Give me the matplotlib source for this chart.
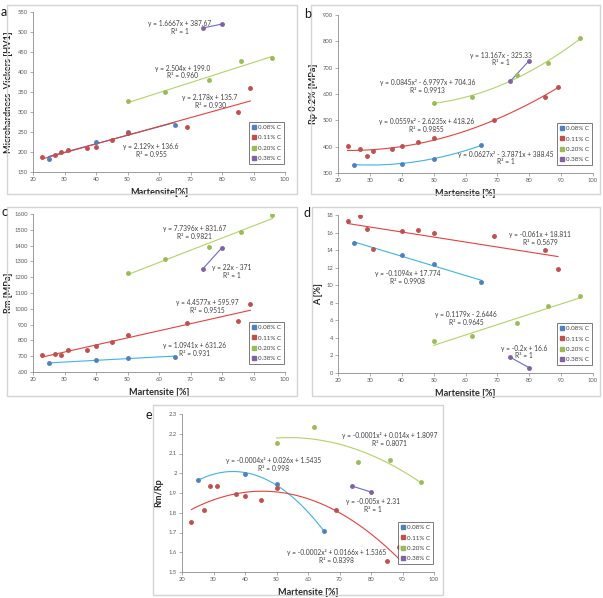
import numpy as np
import matplotlib
matplotlib.use('Agg')
import matplotlib.pyplot as plt
from matplotlib.patches import Rectangle
from matplotlib.lines import Line2D

plt.rcParams['font.family'] = ['Lato', 'DejaVu Sans']

W, H = 603, 598

# ---------------- data ----------------
labels = ['0.08% C', '0.11% C', '0.20% C', '0.38% C']

x_008 = [25, 40, 50, 65]
x_011 = [23, 27, 29, 31, 37, 40, 45, 50, 69, 85, 89]
x_011_d = [23, 27, 29, 31, 40, 45, 50, 69, 85, 89]
x_020 = [50, 62, 76, 86, 96]
x_038 = [74, 80]

# a) Microhardness Vickers
hv_008 = [183, 225, 250, 267]
hv_011 = [188, 193, 200, 205, 210, 213, 229, 247, 263, 300, 360]
hv_020 = [327, 349, 380, 428, 434]
hv_038 = [510, 520]

# b) Rp 0.2%
rp_008 = [332, 336, 355, 405]
rp_011 = [403, 390, 365, 382, 390, 403, 418, 432, 500, 590, 628]
rp_020 = [567, 587, 672, 718, 812]
rp_038 = [648, 727]

# c) Rm
rm_008 = [655, 675, 690, 697]
rm_011 = [710, 712, 708, 740, 740, 765, 790, 835, 912, 922, 1030]
rm_020 = [1225, 1315, 1390, 1485, 1592]
rm_038 = [1255, 1387]

# d) A
a_008 = [14.8, 13.4, 12.4, 10.4]
a_011 = [17.3, 17.9, 16.4, 14.1, 16.2, 16.3, 16.0, 15.6, 14.0, 11.8]
a_020 = [3.6, 4.2, 5.7, 7.6, 8.8]
a_038 = [1.8, 0.6]

# e) Rm/Rp
rr_008 = [1.965, 1.998, 1.945, 1.707]
rr_011 = [1.755, 1.815, 1.935, 1.935, 1.895, 1.885, 1.865, 1.925, 1.815, 1.555, 1.625]
rr_020 = [2.155, 2.235, 2.055, 2.065, 1.955]
rr_038 = [1.935, 1.905]

# trendline equations shown on chart
eq_a = ['y = 2.129x + 136.6\nR² = 0.955', 'y = 2.178x + 135.7\nR² = 0.930',
        'y = 2.504x + 199.0\nR² = 0.960', 'y = 1.6667x + 387.67\nR² = 1']
eq_b = ['y = 0.0627x² - 3.7871x + 388.45\nR² = 1', 'y = 0.0559x² - 2.6235x + 418.26\nR² = 0.9855',
        'y = 0.0845x² - 6.9797x + 704.36\nR² = 0.9913', 'y = 13.167x - 325.33\nR² = 1']
eq_c = ['y = 1.0941x + 631.26\nR² = 0.931', 'y = 4.4577x + 595.97\nR² = 0.9515',
        'y = 7.7396x + 831.67\nR² = 0.9821', 'y = 22x - 371\nR² = 1']
eq_d = ['y = -0.1094x + 17.774\nR² = 0.9908', 'y = -0.061x + 18.811\nR² = 0.5679',
        'y = 0.1179x - 2.6446\nR² = 0.9645', 'y = -0.2x + 16.6\nR² = 1']
eq_e = ['y = -0.0004x² + 0.026x + 1.5435\nR² = 0.998', 'y = -0.0002x² + 0.0166x + 1.5365\nR² = 0.8398',
        'y = -0.0001x² + 0.014x + 1.8097\nR² = 0.8071', 'y = -0.005x + 2.31\nR² = 1']

# ---------------- style ----------------
mcol = ['#4F81BD', '#C0504D', '#9BBB59', '#8064A2']
lcol = ['#3DB4E6', '#E5413C', '#B0D465', '#6B6BC8']
lcol_a = ['#4A6FC4', '#E5413C', '#B0D465', '#6B6BC8']
spine_c = '#8C8C8C'
tick_c = '#595959'
text_c = '#404040'


def rect(x0, y0, x1, y1):
    return [x0 / W, 1 - y1 / H, (x1 - x0) / W, (y1 - y0) / H]


fig = plt.figure(figsize=(W / 100, H / 100), dpi=100)
fig.patch.set_facecolor('white')

# panel frames
for (x0, y0, x1, y1) in [(7, 5, 297, 194), (311, 5, 600, 194), (7, 207, 297, 396),
                         (312, 207, 600, 396), (153, 405, 443, 595)]:
    fig.patches.append(Rectangle((x0 / W, 1 - y1 / H), (x1 - x0) / W, (y1 - y0) / H,
                                 transform=fig.transFigure, fill=False,
                                 edgecolor='#D4D4D4', lw=1.0))


def panel(box, xs, ys, degs, lc, ylim, ystep, yfmt, ylabel, xlabel, eqs, eqpos,
          ylab_x, letter, letter_pos):
    ax = fig.add_axes(rect(*box))
    for i in range(4):
        x = np.array(xs[i], dtype=float)
        y = np.array(ys[i], dtype=float)
        c = np.polyfit(x, y, degs[i])
        xx = np.linspace(x.min(), x.max(), 100)
        ax.plot(xx, np.polyval(c, xx), color=lc[i], lw=0.8, zorder=2)
    for i in range(4):
        ax.plot(xs[i], ys[i], 'o', ms=2.5, color=mcol[i], mec=mcol[i], zorder=3, ls='none')
    for t, (tx, ty) in zip(eqs, eqpos):
        ax.text(tx, ty, t, ha='center', va='center', fontsize=4.75, color=text_c,
                linespacing=1.15, multialignment='center', zorder=4)
    ax.set_xlim(20, 100)
    ax.set_xticks(np.arange(20, 101, 10))
    ax.set_ylim(*ylim)
    yt = np.arange(ylim[0], ylim[1] + ystep / 2, ystep)
    ax.set_yticks(yt)
    ax.set_yticklabels([yfmt(v) for v in yt])
    for s in ['top', 'right']:
        ax.spines[s].set_visible(False)
    for s in ['left', 'bottom']:
        ax.spines[s].set_color(spine_c)
        ax.spines[s].set_linewidth(0.6)
    ax.tick_params(direction='out', length=2, width=0.5, color=spine_c,
                   labelsize=4.2, labelcolor=tick_c, pad=1.5)
    ax.set_ylabel(ylabel, fontsize=6.6, fontweight='bold', color='#262626')
    ax.set_xlabel(xlabel, fontsize=6.6, fontweight='bold', color='#262626')
    ax.yaxis.set_label_coords(ylab_x, 0.5)
    ax.xaxis.set_label_coords(0.5, -0.1)
    handles = [Line2D([], [], marker='s', ls='none', ms=2.2, color=mcol[i]) for i in range(4)]
    leg = ax.legend(handles, labels, loc='lower right', bbox_to_anchor=(0.995, 0.05),
                    fontsize=4.5, frameon=True, fancybox=False, handlelength=0.6,
                    handletextpad=0.35, labelspacing=0.8, borderpad=0.45,
                    borderaxespad=0.0)
    leg.get_frame().set_edgecolor('#404040')
    leg.get_frame().set_linewidth(0.6)
    for t in leg.get_texts():
        t.set_color(text_c)
    fig.text(letter_pos[0] / W, 1 - letter_pos[1] / H, letter, fontsize=9,
             ha='left', va='center', color='#1A1A1A')
    return ax


fmt_int = lambda v: '%d' % round(v)
fmt_e = lambda v: ('%.1f' % v).rstrip('0').rstrip('.')

X = [x_008, x_011, x_020, x_038]
Xd = [x_008, x_011_d, x_020, x_038]

panel((33, 12, 285, 172), X, [hv_008, hv_011, hv_020, hv_038], [1, 1, 1, 1], lcol_a,
      (150, 550), 50, fmt_int, 'Microhardness  Vickers [HV1]', 'Martensite[%]', eq_a,
      [(57.5, 203), (76.2, 327), (67.6, 400), (66.7, 512)], -0.079, 'a', (1, 12))

panel((338, 15, 593, 173), X, [rp_008, rp_011, rp_020, rp_038], [2, 2, 2, 1], lcol,
      (300, 900), 100, fmt_int, 'Rp 0.2% [MPa]', 'Martensite [%]', eq_b,
      [(72.6, 357), (47.8, 479), (48.1, 629), (71.1, 733)], -0.078, 'b', (304, 14))

panel((33, 214, 285, 372), X, [rm_008, rm_011, rm_020, rm_038], [1, 1, 1, 1], lcol,
      (600, 1600), 100, fmt_int, 'Rm [MPa]', 'Martensite [%]', eq_c,
      [(71.4, 745), (75.4, 1012), (71.4, 1482), (83.1, 1235)], -0.079, 'c', (1, 212))

panel((338, 215, 593, 373), Xd, [a_008, a_011, a_020, a_038], [1, 1, 1, 1], lcol,
      (0, 18), 2, fmt_int, 'A [%]', 'Martensite [%]', eq_d,
      [(41.8, 10.85), (83.4, 15.3), (60.1, 6.24), (78.3, 2.39)], -0.059, 'd', (304, 213))

panel((182, 414, 434, 572), X, [rr_008, rr_011, rr_020, rr_038], [2, 2, 2, 1], lcol,
      (1.5, 2.3), 0.1, fmt_e, 'Rm/Rp', 'Martensite [%]', eq_e,
      [(49.1, 2.046), (69.1, 1.58), (86.0, 2.17), (80.7, 1.837)], -0.075, 'e', (145, 415))

fig.savefig('out.png', dpi=100, facecolor='white')
